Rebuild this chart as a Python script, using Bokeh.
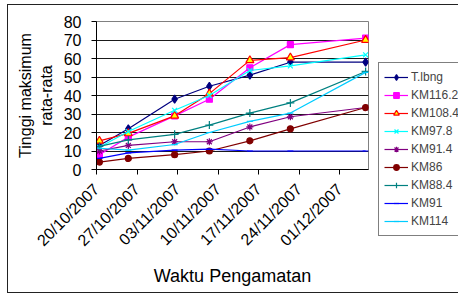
from datetime import datetime
from bokeh.plotting import figure
from bokeh.models import Range1d, FixedTicker, Legend
from bokeh.embed import file_html
from bokeh.resources import INLINE

# ---- data ----
dates = ["20/10/2007", "25/10/2007", "02/11/2007", "08/11/2007",
         "15/11/2007", "22/11/2007", "05/12/2007"]
tick_labels = ["20/10/2007", "27/10/2007", "03/11/2007", "10/11/2007",
               "17/11/2007", "24/11/2007", "01/12/2007"]
axis_start = "20/10/2007"
axis_end = "06/12/2007"
y_ticks = [0, 10, 20, 30, 40, 50, 60, 70, 80]

t_lbng = [13, 22, 38, 45, 51, 58, 58]
km116_2 = [8, 17.5, 29, 38, 55, 67.5, 71]
km108_4 = [15.5, 19.5, 29, 41, 59, 60.5, 70]
km97_8 = [12, 20.5, 32, 40, 53.5, 56, 62]
km91_4 = [10, 13, 15, 15, 23, 28.5, 33.5]
km86 = [4, 6, 8, 10, 15.5, 22, 33.5]
km88_4 = [12.5, 16, 19, 24, 30.5, 36, 53]
km91 = [6, 9, 10.5, 11, 10, 10, 10]
km114 = [11.5, 10.5, 13.5, 20, 26, 30.5, 52.5]

names = ["T.lbng", "KM116.2", "KM108.4", "KM97.8", "KM91.4", "KM86", "KM88.4", "KM91", "KM114"]
values = [t_lbng, km116_2, km108_4, km97_8, km91_4, km86, km88_4, km91, km114]

# ---- styles ----
colors = ["#000080", "#FF00FF", "#FF0000", "#00FFFF", "#800080", "#800000", "#008080", "#0000FF", "#00CCFF"]
markers = ["diamond", "square", "triangle", "x", "asterisk", "circle", "cross", "dash", "dash"]
sizes = [8, 6, 8, 7, 7, 6, 8, 6, 6]
fills = ["#000080", "#FF00FF", "#FFFF00", "#00FFFF", "#800080", "#800000", "#008080", "#0000FF", "#00CCFF"]

FONT = "Liberation Sans"

def parse(s):
    return datetime.strptime(s, "%d/%m/%Y")

d0 = parse(axis_start)
# Excel date axis: each day is a slot, points sit at the slot centre
x = [(parse(d) - d0).days + 0.5 for d in dates]
tick_pos = [(parse(t) - d0).days for t in tick_labels]
x_end = (parse(axis_end) - d0).days

p = figure(width=449, height=287, output_backend="svg", toolbar_location=None,
           x_range=Range1d(0, x_end), y_range=Range1d(y_ticks[0], y_ticks[-1]),
           frame_width=272, frame_height=148,
           min_border_left=88, min_border_top=16, min_border_right=89, min_border_bottom=123)
p.styles = {"border": "1px solid #222222", "margin-left": "7px", "margin-top": "4px"}
p.outline_line_color = "#808080"
p.background_fill_color = "white"

p.xgrid.visible = False
p.ygrid.grid_line_color = "#1a1a1a"
p.ygrid.grid_line_width = 1

p.yaxis.ticker = FixedTicker(ticks=y_ticks)
p.xaxis.ticker = FixedTicker(ticks=tick_pos)
p.xaxis.major_label_overrides = {t: lab for t, lab in zip(tick_pos, tick_labels)}
p.xaxis.major_label_orientation = 0.785398

for ax in (p.xaxis[0], p.yaxis[0]):
    ax.axis_line_color = "black"
    ax.major_tick_line_color = "black"
    ax.major_tick_out = 5
    ax.major_tick_in = 0
    ax.minor_tick_line_color = None
    ax.major_label_text_font = FONT
    ax.major_label_text_font_size = "16px"
    ax.major_label_text_color = "black"
    ax.axis_label_text_font = FONT
    ax.axis_label_text_font_style = "normal"
    ax.axis_label_text_color = "black"

p.xaxis.axis_label = "Waktu Pengamatan"
p.xaxis.axis_label_text_font_size = "18px"
p.xaxis.major_label_standoff = 12
p.xaxis.axis_label_standoff = 8
p.yaxis.axis_label = "Tinggi maksimum\nrata-rata"
p.yaxis.axis_label_text_font_size = "16px"
p.yaxis.major_label_standoff = 10
p.yaxis.axis_label_standoff = 6

items = []
for name, vals, c, m, s, f in zip(names, values, colors, markers, sizes, fills):
    r1 = p.line(x, vals, line_color=c, line_width=1.2)
    r2 = p.scatter(x, vals, marker=m, size=s, line_color=c, fill_color=f, line_width=1.2)
    items.append((name, [r1, r2]))

legend = Legend(items=items, location=(10, -67))
legend.label_text_font = FONT
legend.label_text_font_size = "12px"
legend.label_standoff = 3
legend.glyph_width = 24
legend.glyph_height = 14
legend.label_height = 18
legend.spacing = 0
legend.padding = 5
legend.margin = 0
legend.border_line_color = "black"
legend.border_line_width = 1
legend.background_fill_color = "white"
legend.background_fill_alpha = 1
p.add_layout(legend, "right")

open("out.html", "w").write(file_html(p, INLINE))
